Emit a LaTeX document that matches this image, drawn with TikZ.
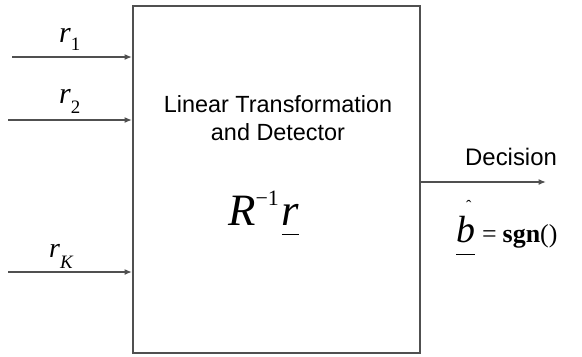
\documentclass[tikz,border=0pt]{standalone}
\usepackage{fontspec}
\setmainfont{Liberation Sans}
\newfontfamily\tnr{Liberation Serif}
\usetikzlibrary{arrows.meta}
\definecolor{linegray}{RGB}{80,80,80}
% 带下划线的符号
\newcommand{\ulbar}[2]{\setbox0\hbox{#2}\rlap{\raisebox{-#1}{\rule{\wd0}{1.5bp}}}\box0}

\begin{document}
\begin{tikzpicture}[x=1bp, y=-1bp,
    wire/.style={line width=1.4bp, draw=linegray, -{Latex[length=7.5bp,width=6bp]}},
    lbl/.style={inner sep=0pt, anchor=base west},
    sans/.style={inner sep=0pt, anchor=base, font=\fontsize{23.5}{28}\selectfont}]
    \useasboundingbox (0,0) rectangle (582,356);

    % 线性变换与检测方框
    \node[draw=linegray, line width=2bp, minimum width=287bp, minimum height=347bp,
          inner sep=0pt] (ltd) at (276.5,179.5) {};
    \node[sans] (title1) at (278,112) {Linear Transformation};
    \node[sans] (title2) at (278,140) {and Detector};
    \node[lbl] (rinv) at (228,225) {\tnr\fontsize{45}{45}\selectfont
        \itshape R\upshape\raisebox{20bp}{\fontsize{22}{22}\selectfont −1}\hspace{3bp}%
        \itshape\ulbar{10bp}{r}};

    % 输入信号
    \coordinate (in1) at (12,57);
    \coordinate (in2) at (8,120);
    \coordinate (inK) at (8,272);
    \draw[wire] (in1) -- (in1 -| ltd.west);
    \draw[wire] (in2) -- (in2 -| ltd.west);
    \draw[wire] (inK) -- (inK -| ltd.west);
    \node[lbl] (r1) at (59,42) {\tnr{\fontsize{30}{30}\selectfont\itshape r}%
        \raisebox{-8bp}{\fontsize{19}{19}\selectfont 1}};
    \node[lbl] (r2) at (59,103) {\tnr{\fontsize{30}{30}\selectfont\itshape r}%
        \raisebox{-10bp}{\fontsize{19}{19}\selectfont 2}};
    \node[lbl] (rK) at (49,257) {\tnr{\fontsize{28}{28}\selectfont\itshape r}%
        \raisebox{-11bp}{\fontsize{19}{19}\selectfont\itshape K}};

    % 判决输出
    \coordinate (out) at (546,182);
    \draw[wire] (ltd.east |- out) -- (out);
    \node[lbl, font=\fontsize{24}{28}\selectfont] (dec) at (465,165) {Decision};
    \node[lbl] (bhat) at (456,242) {\tnr{\fontsize{38}{38}\selectfont
        \rlap{\hspace{10bp}\raisebox{31bp}{\fontsize{16}{16}\selectfont ˆ}}%
        \itshape\ulbar{13bp}{b}}\hspace{7bp}%
        {\fontsize{26}{26}\selectfont =\hspace{6bp}\textbf{sgn}()}};
\end{tikzpicture}
\end{document}
